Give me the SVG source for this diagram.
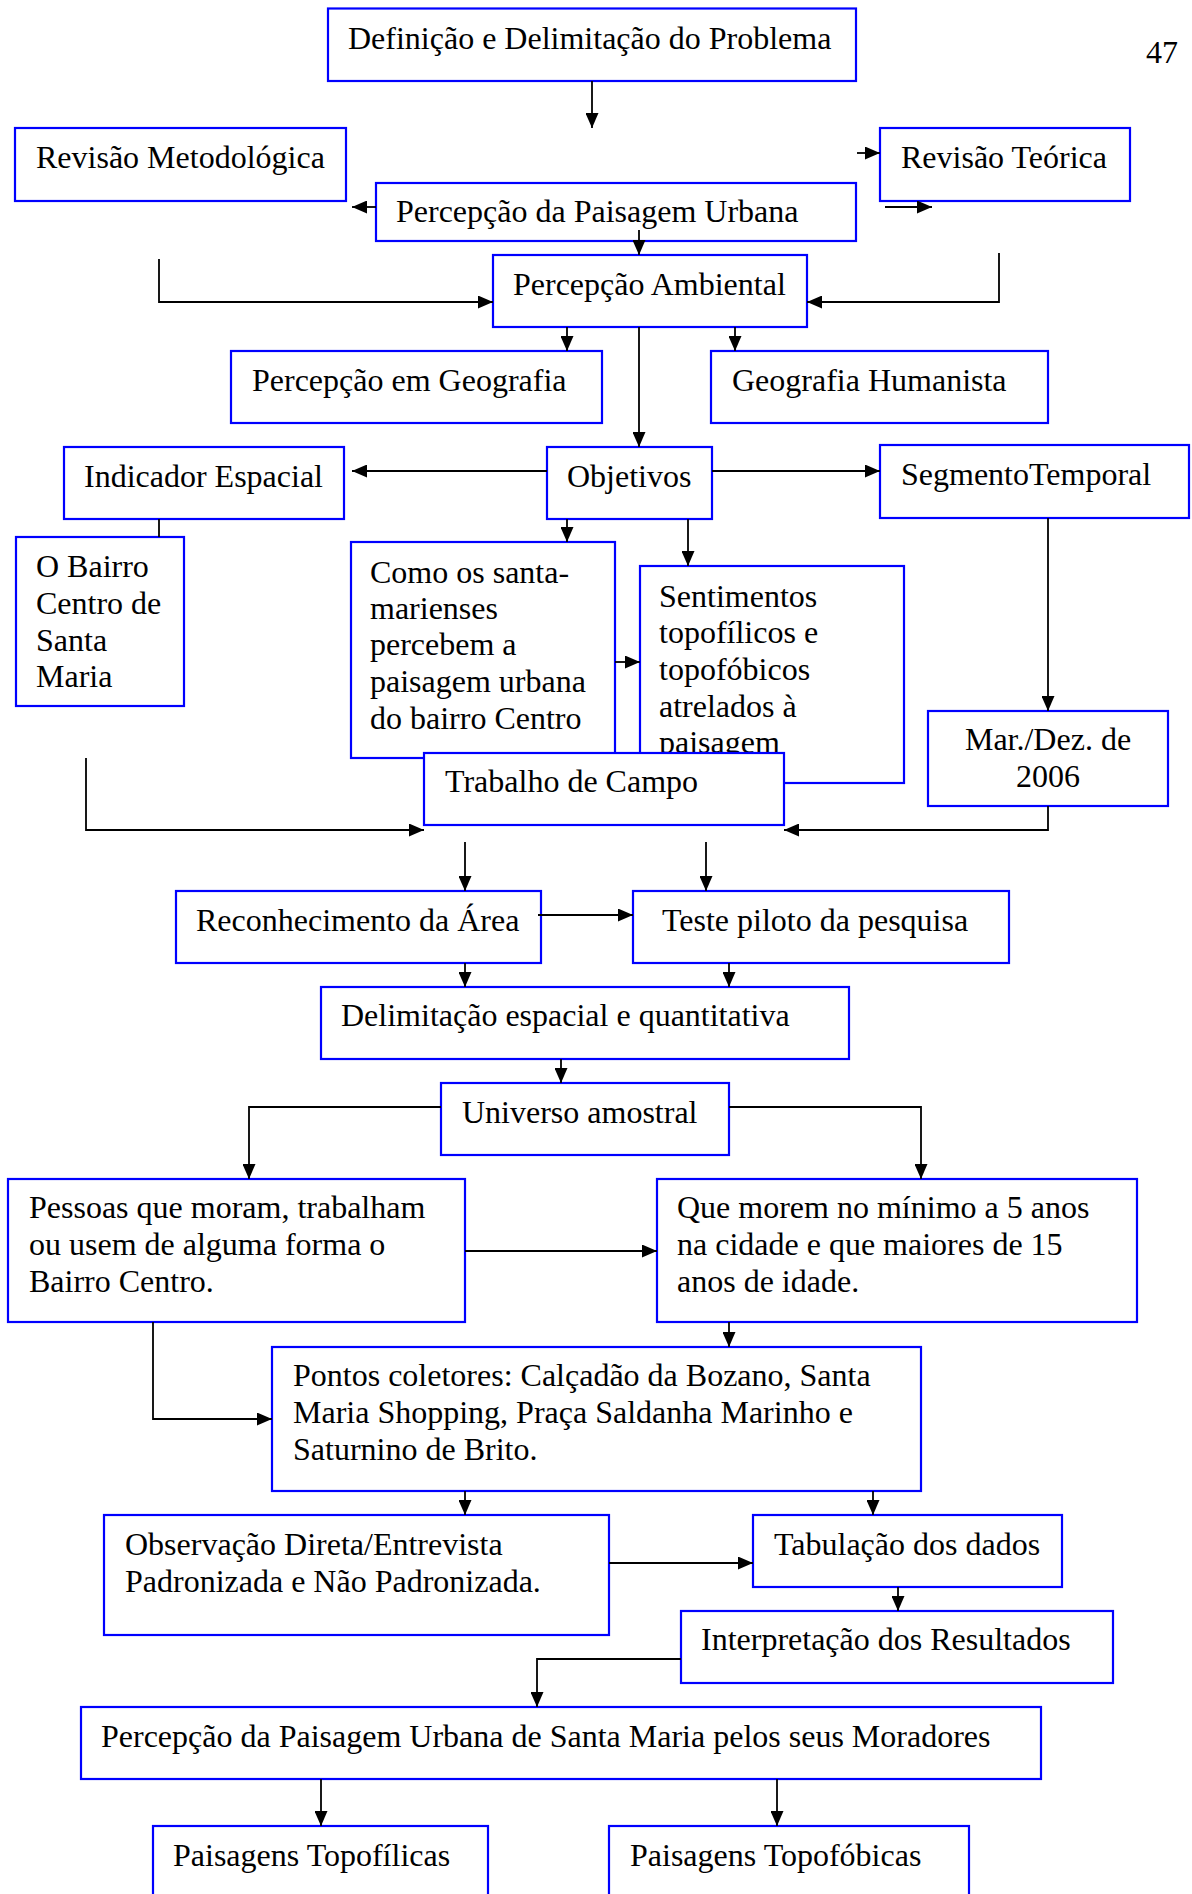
<svg xmlns="http://www.w3.org/2000/svg" width="1192" height="1894" viewBox="0 0 1192 1894">
<style>
.b{fill:#fff;stroke:#0000ff;stroke-width:2.2}
.t{font-family:"Liberation Serif","Times New Roman",serif;font-size:32px;fill:#000}
.c{fill:none;stroke:#000;stroke-width:1.8}
</style>
<defs>
<marker id="a" markerUnits="userSpaceOnUse" markerWidth="15" markerHeight="13" refX="15" refY="6.5" orient="auto">
<path d="M0,0 L15,6.5 L0,13 Z" fill="#000"/>
</marker>
</defs>
<rect width="1192" height="1894" fill="#fff"/>
<text class="t" x="1146" y="63">47</text>
<g id="nodes">
<g id="n1"><rect class="b" x="328" y="8.5" width="528" height="72.5"/><text class="t" x="348" y="49">Definição e Delimitação do Problema</text></g>
<g id="n2"><rect class="b" x="15" y="128" width="331" height="73"/><text class="t" x="36" y="168">Revisão Metodológica</text></g>
<g id="n3"><rect class="b" x="880" y="128" width="250" height="73"/><text class="t" x="901" y="168">Revisão Teórica</text></g>
<g id="n4"><rect class="b" x="376" y="183" width="480" height="58"/><text class="t" x="396" y="222">Percepção da Paisagem Urbana</text></g>
<g id="n5"><rect class="b" x="493" y="255" width="314" height="72"/><text class="t" x="513" y="295">Percepção Ambiental</text></g>
<g id="n6"><rect class="b" x="231" y="351" width="371" height="72"/><text class="t" x="252" y="391">Percepção em Geografia</text></g>
<g id="n7"><rect class="b" x="711" y="351" width="337" height="72"/><text class="t" x="732" y="391">Geografia Humanista</text></g>
<g id="n8"><rect class="b" x="64" y="447" width="280" height="72"/><text class="t" x="84" y="487">Indicador Espacial</text></g>
<g id="n9"><rect class="b" x="547" y="447" width="165" height="72"/><text class="t" x="567" y="487">Objetivos</text></g>
<g id="n10"><rect class="b" x="880" y="445" width="309" height="73"/><text class="t" x="901" y="485">SegmentoTemporal</text></g>
<g id="n11"><rect class="b" x="16" y="537" width="168" height="169"/><text class="t" x="36" y="577">O Bairro</text><text class="t" x="36" y="614">Centro de</text><text class="t" x="36" y="651">Santa</text><text class="t" x="36" y="687">Maria</text></g>
<g id="n12"><rect class="b" x="351" y="542" width="264" height="216"/><text class="t" x="370" y="583">Como os santa-</text><text class="t" x="370" y="619">marienses</text><text class="t" x="370" y="655">percebem a</text><text class="t" x="370" y="692">paisagem urbana</text><text class="t" x="370" y="729">do bairro Centro</text></g>
<g id="n13"><rect class="b" x="640" y="566" width="264" height="217"/><text class="t" x="659" y="607">Sentimentos</text><text class="t" x="659" y="643">topofílicos e</text><text class="t" x="659" y="680">topofóbicos</text><text class="t" x="659" y="717">atrelados à</text><text class="t" x="659" y="753">paisagem</text></g>
<g id="n14"><rect class="b" x="928" y="711" width="240" height="95"/><text class="t" x="1048" y="750" text-anchor="middle">Mar./Dez. de</text><text class="t" x="1048" y="787" text-anchor="middle">2006</text></g>
<g id="n15"><rect class="b" x="424" y="753" width="360" height="72"/><text class="t" x="445" y="792">Trabalho de Campo</text></g>
<g id="n16"><rect class="b" x="176" y="891" width="365" height="72"/><text class="t" x="196" y="931">Reconhecimento da Área</text></g>
<g id="n17"><rect class="b" x="633" y="891" width="376" height="72"/><text class="t" x="662" y="931">Teste piloto da pesquisa</text></g>
<g id="n18"><rect class="b" x="321" y="987" width="528" height="72"/><text class="t" x="341" y="1026">Delimitação espacial e quantitativa</text></g>
<g id="n19"><rect class="b" x="441" y="1083" width="288" height="72"/><text class="t" x="462" y="1123">Universo amostral</text></g>
<g id="n20"><rect class="b" x="8" y="1179" width="457" height="143"/><text class="t" x="29" y="1218">Pessoas que moram, trabalham</text><text class="t" x="29" y="1255">ou usem de alguma forma o</text><text class="t" x="29" y="1292">Bairro Centro.</text></g>
<g id="n21"><rect class="b" x="657" y="1179" width="480" height="143"/><text class="t" x="677" y="1218">Que morem no mínimo a 5 anos</text><text class="t" x="677" y="1255">na cidade e que maiores de 15</text><text class="t" x="677" y="1292">anos de idade.</text></g>
<g id="n22"><rect class="b" x="272" y="1347" width="649" height="144"/><text class="t" x="293" y="1386">Pontos coletores: Calçadão da Bozano, Santa</text><text class="t" x="293" y="1423">Maria Shopping, Praça Saldanha Marinho e</text><text class="t" x="293" y="1460">Saturnino de Brito.</text></g>
<g id="n23"><rect class="b" x="104" y="1515" width="505" height="120"/><text class="t" x="125" y="1555">Observação Direta/Entrevista</text><text class="t" x="125" y="1592">Padronizada e Não Padronizada.</text></g>
<g id="n24"><rect class="b" x="753" y="1515" width="309" height="72"/><text class="t" x="774" y="1555">Tabulação dos dados</text></g>
<g id="n25"><rect class="b" x="681" y="1611" width="432" height="72"/><text class="t" x="701" y="1650">Interpretação dos Resultados</text></g>
<g id="n26"><rect class="b" x="81" y="1707" width="960" height="72"/><text class="t" x="101" y="1747">Percepção da Paisagem Urbana de Santa Maria pelos seus Moradores</text></g>
<g id="n27"><rect class="b" x="153" y="1826" width="335" height="90"/><text class="t" x="173" y="1866">Paisagens Topofílicas</text></g>
<g id="n28"><rect class="b" x="609" y="1826" width="360" height="90"/><text class="t" x="630" y="1866">Paisagens Topofóbicas</text></g>
</g>
<g id="connectors">
<path class="c" d="M592,81 V128" marker-end="url(#a)"/>
<path class="c" d="M376,207 H352" marker-end="url(#a)"/>
<path class="c" d="M857,153 H880" marker-end="url(#a)"/>
<path class="c" d="M885,207 H932" marker-end="url(#a)"/>
<path class="c" d="M639,230 V255" marker-end="url(#a)"/>
<path class="c" d="M159,259 V302 H493" marker-end="url(#a)"/>
<path class="c" d="M999,253 V302 H807" marker-end="url(#a)"/>
<path class="c" d="M567,327 V351" marker-end="url(#a)"/>
<path class="c" d="M735,327 V351" marker-end="url(#a)"/>
<path class="c" d="M639,327 V447" marker-end="url(#a)"/>
<path class="c" d="M547,471 H352" marker-end="url(#a)"/>
<path class="c" d="M712,471 H880" marker-end="url(#a)"/>
<path class="c" d="M159,519 V537"/>
<path class="c" d="M567,519 V542" marker-end="url(#a)"/>
<path class="c" d="M688,519 V566" marker-end="url(#a)"/>
<path class="c" d="M615,662 H640" marker-end="url(#a)"/>
<path class="c" d="M1048,518 V711" marker-end="url(#a)"/>
<path class="c" d="M86,758 V830 H424" marker-end="url(#a)"/>
<path class="c" d="M1048,806 V830 H784" marker-end="url(#a)"/>
<path class="c" d="M465,842 V891" marker-end="url(#a)"/>
<path class="c" d="M706,842 V891" marker-end="url(#a)"/>
<path class="c" d="M538,915 H633" marker-end="url(#a)"/>
<path class="c" d="M465,963 V987" marker-end="url(#a)"/>
<path class="c" d="M729,963 V987" marker-end="url(#a)"/>
<path class="c" d="M561,1059 V1083" marker-end="url(#a)"/>
<path class="c" d="M441,1107 H249 V1179" marker-end="url(#a)"/>
<path class="c" d="M729,1107 H921 V1179" marker-end="url(#a)"/>
<path class="c" d="M465,1251 H657" marker-end="url(#a)"/>
<path class="c" d="M153,1322 V1419 H272" marker-end="url(#a)"/>
<path class="c" d="M729,1322 V1347" marker-end="url(#a)"/>
<path class="c" d="M465,1491 V1515" marker-end="url(#a)"/>
<path class="c" d="M873,1491 V1515" marker-end="url(#a)"/>
<path class="c" d="M609,1563 H753" marker-end="url(#a)"/>
<path class="c" d="M898,1587 V1611" marker-end="url(#a)"/>
<path class="c" d="M681,1659 H537 V1707" marker-end="url(#a)"/>
<path class="c" d="M321,1779 V1826" marker-end="url(#a)"/>
<path class="c" d="M777,1779 V1826" marker-end="url(#a)"/>
</g>
</svg>
